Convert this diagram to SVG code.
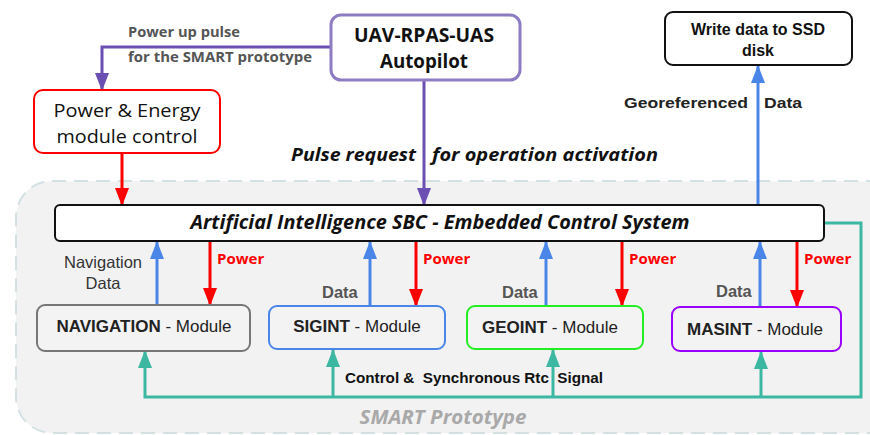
<svg xmlns="http://www.w3.org/2000/svg" width="870" height="435" viewBox="0 0 870 435">
<style>
.os{font-family:"Open Sans","Liberation Sans",sans-serif}
.ar{font-family:"Liberation Sans",Arial,sans-serif}
.box{fill:#ffffff}
.mod{fill:#f3f3f3;stroke-width:2}
.ln{fill:none;stroke-width:3}
.pur{stroke:#6b4fb3}
.red{stroke:#ff0000}
.blu{stroke:#4a86e8}
.tea{stroke:#3cb7a2}
.lbl{font-size:16.5px;font-weight:bold;fill:#555555}
.pw{font-size:15px;font-weight:bold;fill:#ff0000}
.mt{font-size:17px;fill:#222222}
</style>
<defs>
<marker id="aPur" markerUnits="userSpaceOnUse" markerWidth="18" markerHeight="14" refX="17" refY="7" orient="auto"><path d="M0,0 L18,7 L0,14 z" fill="#6b4fb3"/></marker>
<marker id="aRed" markerUnits="userSpaceOnUse" markerWidth="18" markerHeight="14" refX="17" refY="7" orient="auto"><path d="M0,0 L18,7 L0,14 z" fill="#ff0000"/></marker>
<marker id="aBlu" markerUnits="userSpaceOnUse" markerWidth="18" markerHeight="14" refX="17" refY="7" orient="auto"><path d="M0,0 L18,7 L0,14 z" fill="#4a86e8"/></marker>
<marker id="aTea" markerUnits="userSpaceOnUse" markerWidth="18" markerHeight="14" refX="17" refY="7" orient="auto"><path d="M0,0 L18,7 L0,14 z" fill="#3cb7a2"/></marker>
</defs>
<rect width="870" height="435" fill="#ffffff"/>
<g id="container">
<rect x="16" y="181" width="890" height="252" rx="36" fill="#f2f2f2" stroke="#d3e1e4" stroke-width="2" stroke-dasharray="14,8"/>
<text class="os" x="443" y="424" text-anchor="middle" font-size="19" font-weight="bold" font-style="italic" fill="#a9a9a9" textLength="167" lengthAdjust="spacingAndGlyphs">SMART Prototype</text>
</g>
<g id="connectors">
<path class="ln pur" d="M331,47 H102 V90" marker-end="url(#aPur)"/>
<path class="ln pur" d="M424,80 V205" marker-end="url(#aPur)"/>
<path class="ln red" d="M122,153 V205" marker-end="url(#aRed)"/>
<path class="ln blu" d="M758,205 V66" marker-end="url(#aBlu)"/>
<path class="ln tea" d="M824,223 H861 V397 H145 V351" marker-end="url(#aTea)"/>
<path class="ln tea" d="M333,397 V350" marker-end="url(#aTea)"/>
<path class="ln tea" d="M553,397 V350" marker-end="url(#aTea)"/>
<path class="ln tea" d="M761,397 V352" marker-end="url(#aTea)"/>
<path class="ln blu" d="M157,305 V242" marker-end="url(#aBlu)"/>
<path class="ln blu" d="M370,306 V242" marker-end="url(#aBlu)"/>
<path class="ln blu" d="M546,306 V242" marker-end="url(#aBlu)"/>
<path class="ln blu" d="M760,307 V242" marker-end="url(#aBlu)"/>
<path class="ln red" d="M210,241 V305" marker-end="url(#aRed)"/>
<path class="ln red" d="M416,241 V306" marker-end="url(#aRed)"/>
<path class="ln red" d="M622,241 V306" marker-end="url(#aRed)"/>
<path class="ln red" d="M797,241 V307" marker-end="url(#aRed)"/>
<text class="os" x="128" y="37" font-size="14" font-weight="bold" fill="#555555" textLength="112" lengthAdjust="spacingAndGlyphs">Power up pulse</text>
<text class="os" x="128" y="62" font-size="14" font-weight="bold" fill="#555555" textLength="184" lengthAdjust="spacingAndGlyphs">for the SMART prototype</text>
<text class="os" x="291" y="161" font-size="18" font-weight="bold" font-style="italic" fill="#111111" textLength="125" lengthAdjust="spacingAndGlyphs">Pulse request</text>
<text class="os" x="432" y="161" font-size="18" font-weight="bold" font-style="italic" fill="#111111" textLength="226" lengthAdjust="spacingAndGlyphs">for operation activation</text>
<text class="ar" x="624" y="108" font-size="15.5" font-weight="bold" fill="#222222" textLength="124" lengthAdjust="spacingAndGlyphs">Georeferenced</text>
<text class="ar" x="764" y="108" font-size="15.5" font-weight="bold" fill="#222222" textLength="38" lengthAdjust="spacingAndGlyphs">Data</text>
<text class="ar" x="103" y="268" font-size="16.5" fill="#333333" text-anchor="middle">Navigation</text>
<text class="ar" x="103" y="289" font-size="16.5" fill="#333333" text-anchor="middle">Data</text>
<text class="ar lbl" x="322" y="298">Data</text>
<text class="ar lbl" x="502" y="298">Data</text>
<text class="ar lbl" x="716" y="297">Data</text>
<text class="os pw" x="217" y="264">Power</text>
<text class="os pw" x="423" y="264">Power</text>
<text class="os pw" x="629" y="264">Power</text>
<text class="os pw" x="804" y="264">Power</text>
<text class="ar" x="345" y="383" font-size="14" font-weight="bold" fill="#111111" textLength="258" lengthAdjust="spacingAndGlyphs" xml:space="preserve">Control &amp;  Synchronous Rtc  Signal</text>
</g>
<g id="uav">
<rect class="box" x="331" y="15" width="189" height="65" rx="10" stroke="#8e7cc3" stroke-width="3"/>
<text class="os" x="424" y="42" font-size="19" font-weight="bold" fill="#111111" text-anchor="middle" textLength="140" lengthAdjust="spacingAndGlyphs">UAV-RPAS-UAS</text>
<text class="os" x="424" y="68" font-size="19" font-weight="bold" fill="#111111" text-anchor="middle" textLength="88" lengthAdjust="spacingAndGlyphs">Autopilot</text>
</g>
<g id="power">
<rect class="box" x="34" y="90" width="186" height="63" rx="9" stroke="#ff0000" stroke-width="2"/>
<text class="os" x="127" y="117" font-size="18.5" fill="#111111" text-anchor="middle" textLength="147" lengthAdjust="spacingAndGlyphs">Power &amp; Energy</text>
<text class="os" x="127" y="143" font-size="18.5" fill="#111111" text-anchor="middle" textLength="141" lengthAdjust="spacingAndGlyphs">module control</text>
</g>
<g id="ssd">
<rect class="box" x="665" y="12" width="187" height="53" rx="8" stroke="#111111" stroke-width="2"/>
<text class="ar" x="758" y="35" font-size="16" font-weight="bold" fill="#111111" text-anchor="middle">Write data to SSD</text>
<text class="ar" x="758" y="56" font-size="16" font-weight="bold" fill="#111111" text-anchor="middle">disk</text>
</g>
<g id="sbc">
<rect class="box" x="55" y="205" width="769" height="36" rx="5" stroke="#111111" stroke-width="2"/>
<text class="os" x="440" y="229" font-size="19.5" font-weight="bold" font-style="italic" fill="#111111" text-anchor="middle" textLength="499" lengthAdjust="spacingAndGlyphs">Artificial Intelligence SBC - Embedded Control System</text>
</g>
<g id="navigation">
<rect class="mod" x="37" y="305" width="213" height="46" rx="8" stroke="#777777"/>
<text class="ar mt" x="144" y="332" text-anchor="middle"><tspan font-weight="bold">NAVIGATION</tspan> - Module</text>
</g>
<g id="sigint">
<rect class="mod" x="269" y="306" width="176" height="43" rx="8" stroke="#4a86e8"/>
<text class="ar mt" x="357" y="332" text-anchor="middle"><tspan font-weight="bold">SIGINT</tspan> - Module</text>
</g>
<g id="geoint">
<rect class="mod" x="467" y="306" width="176" height="43" rx="8" stroke="#22ee22"/>
<text class="ar mt" x="550" y="333" text-anchor="middle"><tspan font-weight="bold">GEOINT</tspan> - Module</text>
</g>
<g id="masint">
<rect class="mod" x="672" y="307" width="169" height="44" rx="8" stroke="#9900ff"/>
<text class="ar mt" x="755" y="335" text-anchor="middle"><tspan font-weight="bold">MASINT</tspan> - Module</text>
</g>
</svg>
